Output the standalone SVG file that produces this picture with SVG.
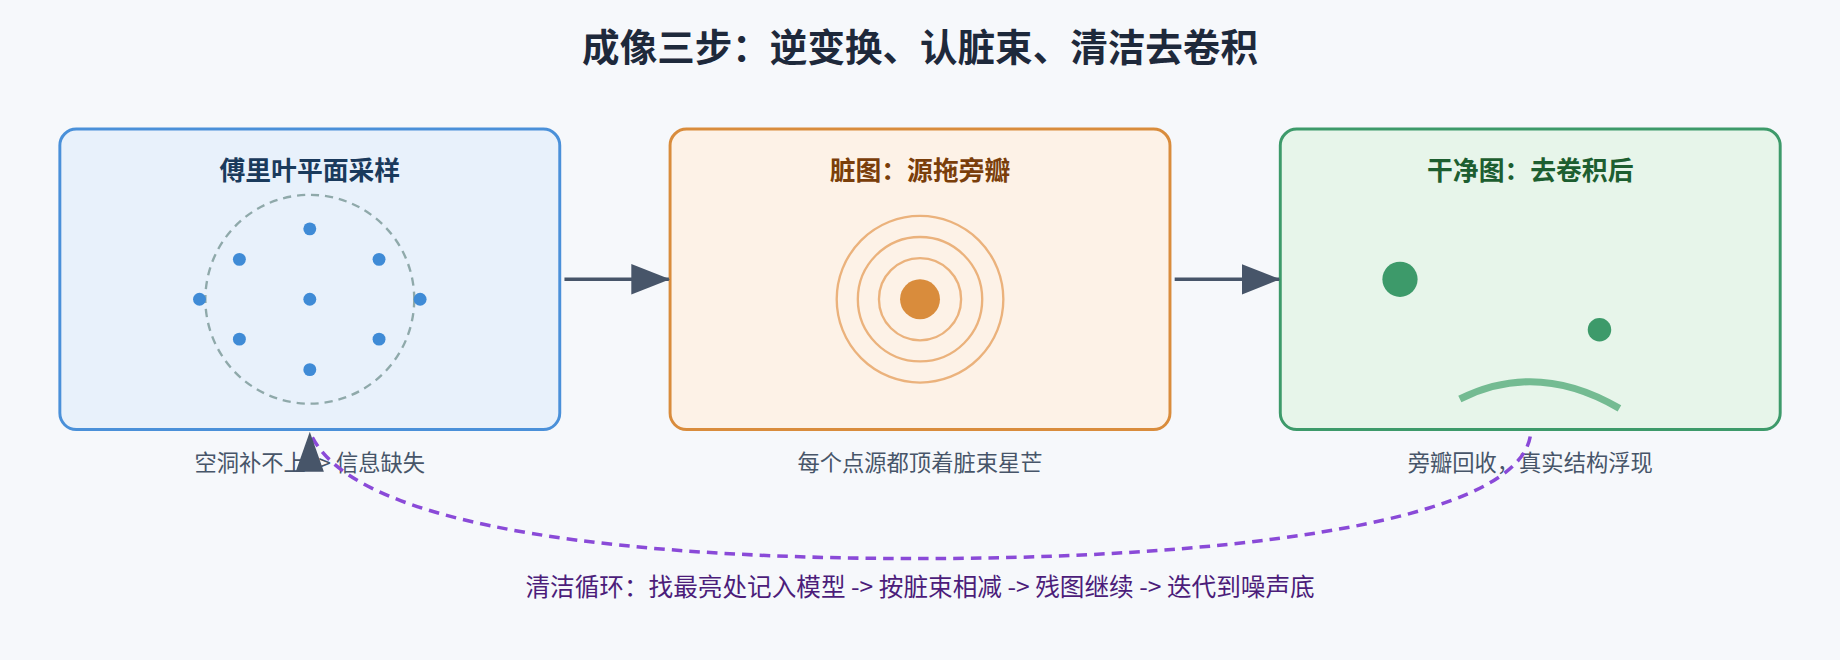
<svg xmlns="http://www.w3.org/2000/svg" width="1840" height="660" viewBox="0 0 1840 660">
<style>
text{font-family:"Noto Sans CJK SC","Liberation Sans",sans-serif;text-anchor:middle}
.t{font-size:22px;font-weight:bold}
.cap{font-size:19px;fill:#475569}
.box{stroke-width:2.5}
.dot{fill:#3f8bd6}
.ring{fill:none;stroke:#ebb27c;stroke-width:2}
</style>
<defs>
<marker id="ah" markerWidth="34" markerHeight="26" refX="32" refY="13" orient="auto" markerUnits="userSpaceOnUse"><path d="M0,0 L33,13 L0,26 Z" fill="#475569"/></marker>
</defs>
<rect width="1840" height="660" fill="#f6f8fb"/>
<g transform="scale(1.1735)">
<text x="784" y="52" style="font-size:32px;font-weight:bold;fill:#1e293b">成像三步：逆变换、认脏束、清洁去卷积</text>
<g id="node-fourier">
<rect class="box" x="51" y="110" width="426" height="256" rx="14" fill="#e8f1fb" stroke="#4a90d9"/>
<text class="t" x="264" y="153" fill="#1a3a5c">傅里叶平面采样</text>
<circle cx="264" cy="255" r="89" fill="none" stroke="#8fa9aa" stroke-width="2" stroke-dasharray="7 5"/>
<circle class="dot" cx="264" cy="195" r="5.5"/><circle class="dot" cx="204" cy="221" r="5.5"/><circle class="dot" cx="323" cy="221" r="5.5"/>
<circle class="dot" cx="170" cy="255" r="5.5"/><circle class="dot" cx="264" cy="255" r="5.5"/><circle class="dot" cx="358" cy="255" r="5.5"/>
<circle class="dot" cx="204" cy="289" r="5.5"/><circle class="dot" cx="323" cy="289" r="5.5"/><circle class="dot" cx="264" cy="315" r="5.5"/>
<text class="cap" x="264" y="401">空洞补不上 -&gt; 信息缺失</text>
</g>
<g id="node-dirty">
<rect class="box" x="571" y="110" width="426" height="256" rx="14" fill="#fdf2e7" stroke="#d98c3c"/>
<text class="t" x="784" y="153" fill="#7a3e0a">脏图：源拖旁瓣</text>
<circle class="ring" cx="784" cy="255" r="71"/><circle class="ring" cx="784" cy="255" r="53"/><circle class="ring" cx="784" cy="255" r="35"/>
<circle cx="784" cy="255" r="17" fill="#d98c3c"/>
<text class="cap" x="784" y="401">每个点源都顶着脏束星芒</text>
</g>
<g id="node-clean">
<rect class="box" x="1091" y="110" width="426" height="256" rx="14" fill="#e7f5ea" stroke="#3d9a6a"/>
<text class="t" x="1304" y="153" fill="#1d5e30">干净图：去卷积后</text>
<circle cx="1193" cy="238" r="15" fill="#3d9a6a"/>
<circle cx="1363" cy="281" r="10" fill="#3d9a6a"/>
<path d="M1244,340 Q1310,307 1380,348" fill="none" stroke="#74bb92" stroke-width="6"/>
<text class="cap" x="1304" y="401">旁瓣回收，真实结构浮现</text>
</g>
<g id="connectors">
<line x1="481" y1="238" x2="570" y2="238" stroke="#475569" stroke-width="3" marker-end="url(#ah)"/>
<line x1="1001" y1="238" x2="1090" y2="238" stroke="#475569" stroke-width="3" marker-end="url(#ah)"/>
<path d="M1304,372 C1290,450 1020,476 784,476 C560,476 300,455 264,368" fill="none" stroke="#8a4ad8" stroke-width="3" stroke-dasharray="9 6"/>
<polygon points="264,368 252,402 276,402" fill="#475569"/>
</g>
<text x="784" y="508" style="font-size:21px;fill:#4c1d7a">清洁循环：找最亮处记入模型 -&gt; 按脏束相减 -&gt; 残图继续 -&gt; 迭代到噪声底</text>
</g>
</svg>
